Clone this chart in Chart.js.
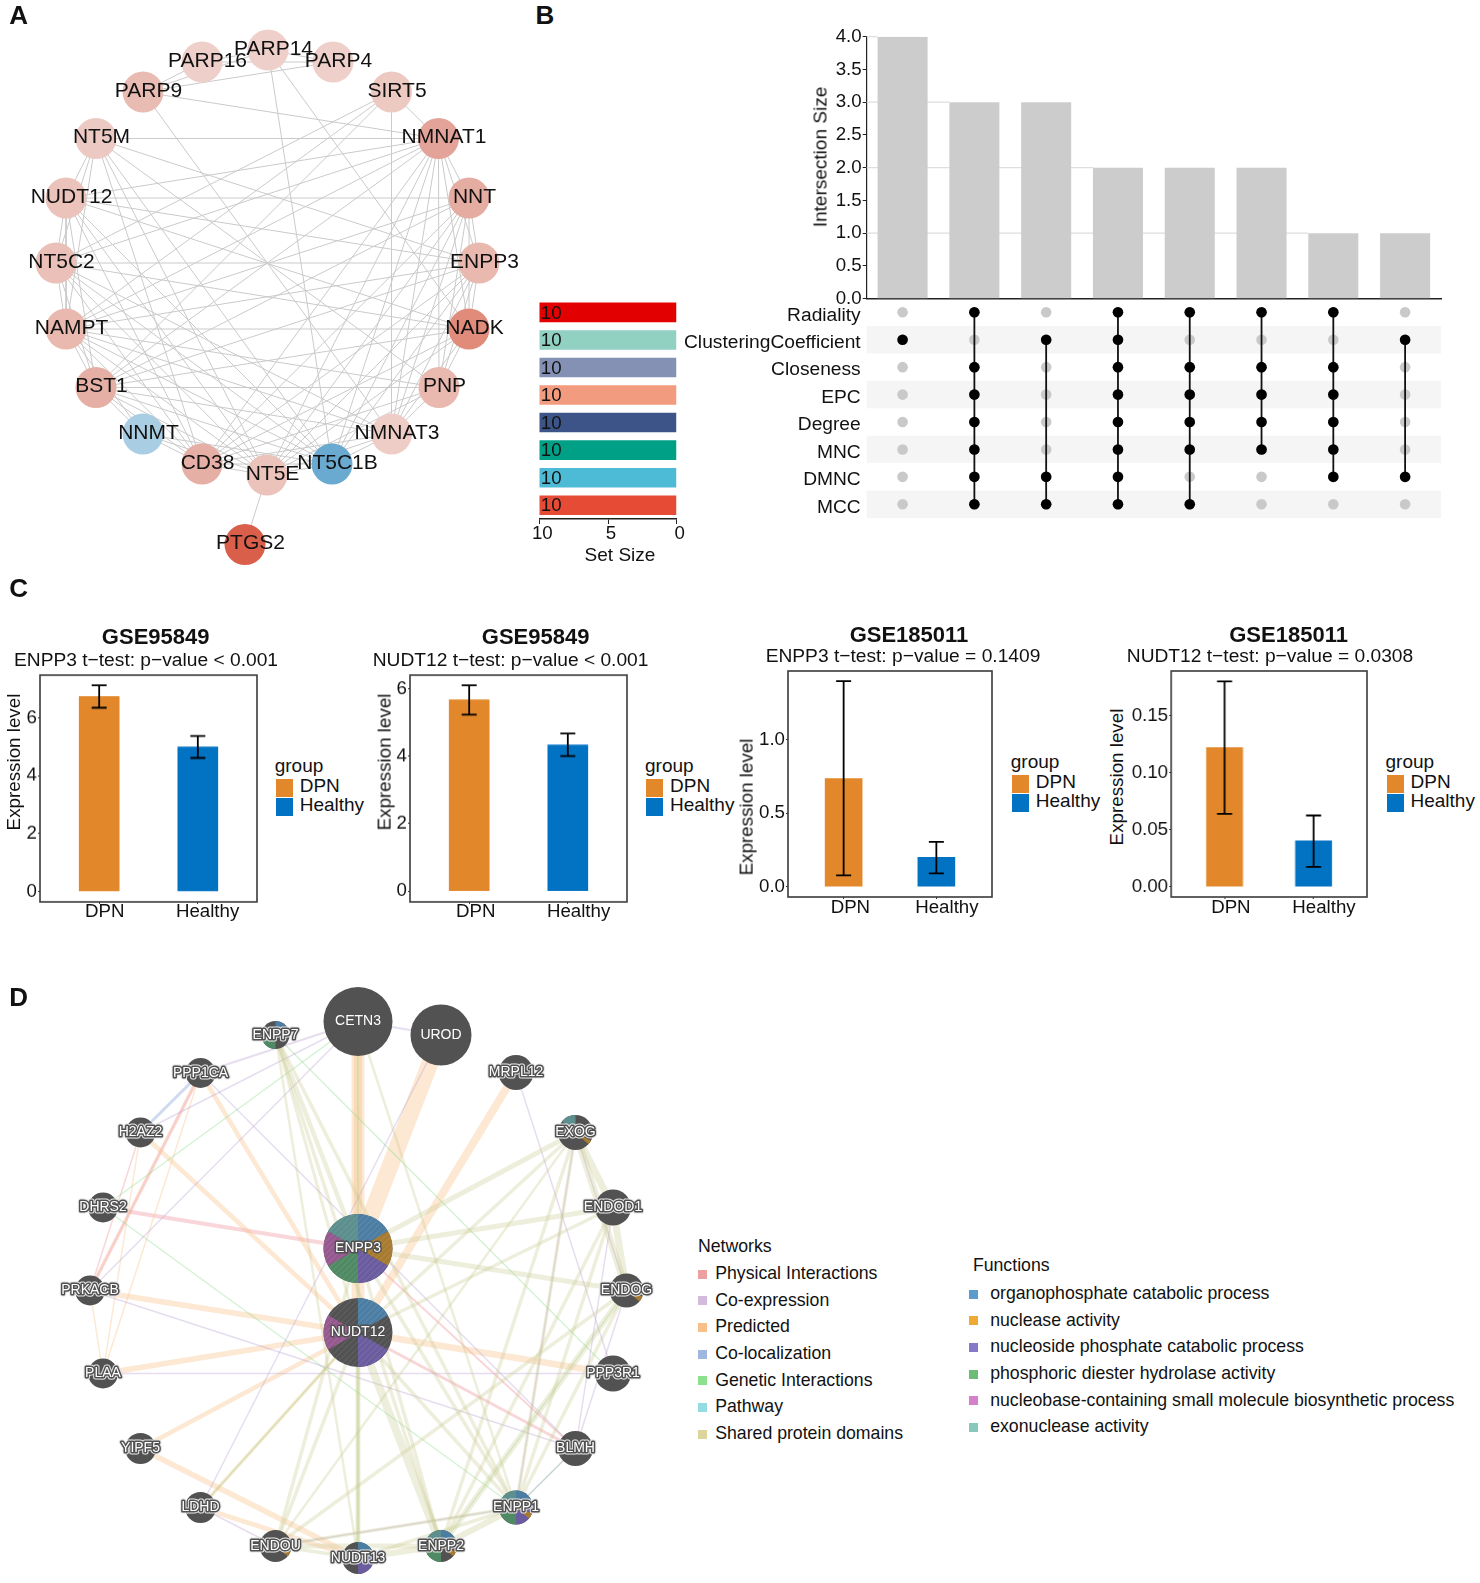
<!DOCTYPE html>
<html>
<head>
<meta charset="utf-8">
<script src="https://cdn.jsdelivr.net/npm/chart.js@4"></script>
<style>
  html, body { margin: 0; background: #fff; }
  #page { position: relative; width: 1480px; height: 1583px; overflow: hidden; font-family: "Liberation Sans", Arial, sans-serif; color: #111; }
  #page canvas { position: absolute; }
  #page span { position: absolute; white-space: nowrap; line-height: 1; }
  #page i { position: absolute; display: block; }
</style>
</head>
<body>
<div id="page"></div>
<script>
// ---- panel A data
const ppiNames = ["PARP14","PARP16","PARP4","PARP9","SIRT5","NT5M","NMNAT1","NUDT12","NNT","NT5C2","ENPP3","NAMPT","NADK","BST1","PNP","NNMT","NMNAT3","CD38","NT5C1B","NT5E","PTGS2"];
const ppiX = [268,202,333,143,391.5,96,438.5,66,469,56,479,66,469,96,439,143,391.5,202,332,267,245];
const ppiY = [50,62,62,92,92,138.5,138.5,198,198,263,263,329,329,387.5,387.5,434,434,464,464,475,544.5];
const ppiColors = ["#efcfc9","#efcfc9","#efcfc9","#e9bcb3","#eccac2","#eccac3","#e3a398","#ebc3bb","#e5aca1","#ebc0b8","#e9b9b0","#e9b9b0","#e18b7b","#e6afa5","#e9b9b0","#a9cde3","#eecdc6","#e6afa5","#6aa9d0","#ebc3bb","#d95f4a"];
const ppiEdges = [
  ["PARP14",["PARP16","PARP4","PARP9","NADK","NT5C1B"]],
  ["PARP16",["PARP4","PARP9"]],
  ["PARP9",["PARP4","NMNAT1","NMNAT3"]],
  ["SIRT5",["NMNAT1","NMNAT3","NT5C2","NAMPT","BST1"]],
  ["NT5M",["NMNAT1","NUDT12","NT5C2","NAMPT","ENPP3","PNP","NT5E","CD38","NT5C1B"]],
  ["NUDT12",["NNT","NMNAT1","ENPP3","NT5C2","NAMPT","NADK","NT5E","CD38","NT5C1B","BST1"]],
  ["NT5C2",["ENPP3","NMNAT1","NAMPT","BST1","NADK","NMNAT3","NT5E","CD38","NT5C1B"]],
  ["NAMPT",["NADK","NMNAT1","NNT","ENPP3","PNP","NMNAT3","NT5E","CD38","BST1","NNMT","NT5C1B"]],
  ["BST1",["PNP","NMNAT1","NNT","ENPP3","NADK","NMNAT3","NT5E","CD38","NNMT","NT5C1B"]],
  ["NNMT",["CD38","NT5E","NT5C1B"]],
  ["CD38",["NT5E","NMNAT1","NNT","ENPP3","NADK","PNP","NMNAT3","NT5C1B"]],
  ["NT5E",["PTGS2","NMNAT1","NNT","ENPP3","NADK","PNP","NMNAT3","NT5C1B"]],
  ["NT5C1B",["NMNAT1","NMNAT3","ENPP3","NNT"]],
  ["NMNAT3",["NMNAT1","NNT","ENPP3","NADK","PNP"]],
  ["PNP",["NMNAT1","NNT","ENPP3","NADK"]],
  ["NADK",["NMNAT1","NNT","ENPP3"]],
  ["ENPP3",["NMNAT1","NNT"]],
  ["NNT",["NMNAT1"]]
];

// ---- panel B data
const intersections = ["c1","c2","c3","c4","c5","c6","c7","c8"];
const intersectionSizes = [4,3,3,2,2,2,1,1];
const setNames = ["Radiality","ClusteringCoefficient","Closeness","EPC","Degree","MNC","DMNC","MCC"];
const setSizes = [10,10,10,10,10,10,10,10];
const setColors = ["#e30000","#91d1c2","#8491b4","#f39b7f","#3c5488","#00a087","#4dbbd5","#e64b35"];
const membership = [
  ["ClusteringCoefficient"],
  ["Radiality","Closeness","EPC","Degree","MNC","DMNC","MCC"],
  ["ClusteringCoefficient","DMNC","MCC"],
  ["Radiality","ClusteringCoefficient","Closeness","EPC","Degree","MNC","DMNC","MCC"],
  ["Radiality","Closeness","EPC","Degree","MNC","MCC"],
  ["Radiality","Closeness","EPC","Degree","MNC"],
  ["Radiality","Closeness","EPC","Degree","MNC","DMNC"],
  ["ClusteringCoefficient","DMNC"]
];

// ---- panel C data
const groups = ["DPN","Healthy"];
const groupColors = ["#e2872a","#0272c3"];
const gseTitles = ["GSE95849","GSE95849","GSE185011","GSE185011"];
const gseSubtitles = ["ENPP3 t\u2212test: p\u2212value < 0.001","NUDT12 t\u2212test: p\u2212value < 0.001","ENPP3 t\u2212test: p\u2212value = 0.1409","NUDT12 t\u2212test: p\u2212value = 0.0308"];
const means1 = [6.75,5.0],    low1 = [6.36,4.62],   high1 = [7.14,5.38];
const means2 = [5.67,4.33],   low2 = [5.23,4.0],    high2 = [6.10,4.67];
const means3 = [0.735,0.20],  low3 = [0.077,0.09],  high3 = [1.396,0.305];
const means4 = [0.1223,0.0404], low4 = [0.064,0.0175], high4 = [0.1804,0.0626];
const ticks1 = [0,2,4,6], ticks2 = [0,2,4,6], ticks3 = [0,0.5,1], ticks4 = [0,0.05,0.1,0.15];

// ---- panel D data
const geneNames = ["CETN3","UROD","ENPP7","MRPL12","PPP1CA","H2AZ2","EXOG","DHRS2","ENDOD1","ENPP3","ENDOG","PRKACB","NUDT12","PLAA","PPP3R1","YIPF5","BLMH","LDHD","ENPP1","ENDOU","ENPP2","NUDT13"];
const geneX = [358,441,275.5,516,200.5,140.5,575.5,103,613,358,626.5,90,358,103,613,140.5,575.5,200.5,516,275.5,441,358];
const geneY = [1021.5,1035,1035,1072.5,1073,1132.5,1132.5,1207.5,1207.5,1248.5,1290.5,1290.5,1332.5,1373.5,1373.5,1448.5,1448.5,1507.5,1507.5,1546,1546,1558];
const geneScore = [34.5,30.5,14,17.5,15,15,17.5,15,18,34.5,17,15,34.5,15,18,15.5,17.5,15.5,17,16,16,16];
const predictedEdges = [["CETN3","ENPP3",8],["CETN3","NUDT12",13],["UROD","ENPP3",17],["MRPL12","NUDT12",8],["PPP1CA","NUDT12",4.5],["H2AZ2","NUDT12",4.5],["PRKACB","NUDT12",5.5],["PLAA","NUDT12",5.5],["YIPF5","NUDT12",4.5],["LDHD","NUDT12",3.5],["NUDT12","PPP3R1",6.5],["YIPF5","NUDT13",5.5],["LDHD","NUDT13",4.5],["PPP1CA","PRKACB",1.5],["H2AZ2","PLAA",1.5],["PRKACB","PLAA",1.5],["PPP1CA","PLAA",1.5]];
const physicalEdges = [["DHRS2","ENPP3",4],["PPP1CA","PRKACB",3.5],["H2AZ2","PRKACB",1.5],["NUDT12","BLMH",3],["ENPP3","BLMH",2]];
const colocEdges = [["PPP1CA","H2AZ2",3]];
const coexprEdges = [["PPP1CA","CETN3",2],["CETN3","UROD",2],["H2AZ2","CETN3",1.5],["PRKACB","CETN3",1.5],["PPP1CA","BLMH",1.5],["MRPL12","PPP3R1",1.5],["UROD","LDHD",1.5],["PRKACB","BLMH",1.5],["PLAA","PPP3R1",1.5],["EXOG","ENPP1",1.5],["ENDOD1","BLMH",1.5],["LDHD","ENDOU",1.5],["ENDOU","ENPP1",1.5],["BLMH","ENPP1",1.5],["ENDOG","BLMH",1.5],["EXOG","ENDOG",1.5]];
const geneticEdges = [["CETN3","DHRS2",1.2],["ENPP7","PPP3R1",1.2],["DHRS2","ENPP1",1.2],["CETN3","ENPP3",1.2],["NUDT12","NUDT13",1.2],["NUDT12","LDHD",1.2],["BLMH","ENPP1",1.2],["ENDOG","ENPP2",1.2]];
const sharedEdges = [["ENPP7","ENPP3",4.5],["ENPP7","NUDT12",3],["ENPP7","NUDT13",2.5],["ENPP7","ENPP2",3.5],["ENPP7","ENPP1",3.5],["CETN3","ENPP1",2.5],["EXOG","ENPP3",5],["EXOG","NUDT12",3.5],["EXOG","ENDOD1",7],["EXOG","ENDOG",7],["ENDOD1","ENDOG",7],["ENDOD1","ENPP3",5],["ENDOD1","NUDT12",3.5],["ENDOG","ENPP3",5],["ENPP3","ENPP1",3.5],["ENPP3","ENPP2",3.5],["ENPP3","NUDT13",3.5],["ENPP3","ENDOU",3.5],["NUDT12","NUDT13",5],["NUDT12","ENDOU",3.5],["NUDT12","ENPP2",8],["NUDT12","ENPP1",3.5],["EXOG","ENPP1",3.5],["EXOG","ENPP2",3.5],["EXOG","ENDOU",2.5],["ENDOD1","ENPP1",3.5],["ENDOD1","ENPP2",3.5],["ENDOG","ENPP1",3.5],["ENDOG","ENPP2",6],["ENDOG","ENDOU",3.5],["ENDOU","ENPP2",5],["ENDOU","ENPP1",3.5],["ENPP1","ENPP2",6],["NUDT13","ENPP2",6],["NUDT13","ENPP1",3.5],["ENDOU","NUDT13",3.5]];
const networkNames = ["Physical Interactions","Co-expression","Predicted","Co-localization","Genetic Interactions","Pathway","Shared protein domains"];
const networkColors = ["#eda0a0","#d4bbdc","#f8c088","#9fb6e0","#8de08d","#94dbe3","#dcd69c"];
const functionNames = ["organophosphate catabolic process","nuclease activity","nucleoside phosphate catabolic process","phosphoric diester hydrolase activity","nucleobase-containing small molecule biosynthetic process","exonuclease activity"];
const functionColors = ["#5b9ccc","#eeaa33","#8878c8","#6cbc78","#d680cc","#88c8bc"];
const pieColors = ["#4c7ea3","#a87c30","#6a5c9e","#4f8a64","#96598f","#5c8f8d"];
// function index, start and end angle clockwise from the top
const pieSlices = {
  ENPP3: [[0,0,60],[1,60,120],[2,120,180],[3,180,240],[4,240,300],[5,300,360]],
  NUDT12: [[0,0,60],[2,120,180],[4,240,300]],
  ENPP7: [[0,0,70],[3,180,270]],
  EXOG: [[5,310,360],[1,118,132]],
  ENPP1: [[0,0,90],[2,90,180],[3,180,270],[5,270,360],[1,110,130]],
  ENPP2: [[0,0,90],[3,180,270],[5,270,360],[1,110,130]],
  NUDT13: [[0,0,90],[2,90,180]],
  ENDOG: [[1,110,130]],
  ENDOU: [[1,110,130]]
};
const hatched = ["ENPP3","NUDT12"];

// ---- helpers
const page = document.getElementById("page");

function text(str, x, y, size, opts = {}) {
  const s = document.createElement("span");
  s.textContent = str;
  s.style.left = x + "px";
  s.style.top = y + "px";
  s.style.fontSize = size + "px";
  if (opts.bold) s.style.fontWeight = "bold";
  const tx = opts.anchor === "l" ? "0" : "-50%";
  s.style.transform = `translate(${tx},-50%)` + (opts.rot ? ` rotate(${opts.rot}deg)` : "");
  page.appendChild(s);
}

function swatch(x, y, w, h, color) {
  const b = document.createElement("i");
  b.style.cssText = `left:${x}px;top:${y}px;width:${w}px;height:${h}px;background:${color}`;
  page.appendChild(b);
}

function addChart(left, top, w, h, config) {
  const c = document.createElement("canvas");
  c.width = w; c.height = h;
  c.style.left = left + "px";
  c.style.top = top + "px";
  c.style.width = w + "px";
  c.style.height = h + "px";
  page.appendChild(c);
  config.options = Object.assign({ responsive: false, animation: false, events: [] }, config.options);
  config.options.layout = Object.assign({ autoPadding: false }, config.options.layout);
  config.options.plugins = Object.assign({ legend: { display: false }, tooltip: { enabled: false } }, config.options.plugins);
  return new Chart(c, config);
}

function edgeSet(p, q, color, width) {
  return { type: "scatter", showLine: true, data: [p, q], borderColor: color, borderWidth: width, pointRadius: 0 };
}

const FONT = "Liberation Sans";

// ---- panel A
function ppiPoint(name) {
  const i = ppiNames.indexOf(name);
  return { x: ppiX[i], y: ppiY[i] };
}

const ppiLabels = {
  id: "ppiLabels",
  afterDatasetsDraw(chart) {
    const ctx = chart.ctx;
    ctx.save();
    ctx.font = `21px "${FONT}"`;
    ctx.fillStyle = "#111";
    ctx.textAlign = "center";
    ctx.textBaseline = "middle";
    chart.getDatasetMeta(0).data.forEach((pt, i) => ctx.fillText(ppiNames[i], pt.x + 5.5, pt.y - 1));
    ctx.restore();
  }
};

const ppiSets = [{
  type: "scatter",
  data: ppiNames.map(ppiPoint),
  backgroundColor: ppiColors,
  borderWidth: 0,
  pointRadius: 20.5
}];
ppiEdges.forEach(([from, list]) => list.forEach(to => ppiSets.push(edgeSet(ppiPoint(from), ppiPoint(to), "#cacaca", 1))));

addChart(0, 0, 530, 575, {
  type: "scatter",
  data: { datasets: ppiSets },
  options: {
    layout: { padding: 0 },
    scales: {
      x: { display: false, min: 0, max: 530 },
      y: { display: false, min: 0, max: 575, reverse: true }
    }
  },
  plugins: [ppiLabels]
});

// ---- panel B, intersection bars
// each grid line stops at the first bar of that height
const shortGrid = {
  id: "shortGrid",
  beforeDatasetsDraw(chart) {
    const { ctx, chartArea, scales } = chart;
    const bars = chart.getDatasetMeta(0).data;
    ctx.save();
    ctx.strokeStyle = "#dedede";
    ctx.lineWidth = 1.2;
    [1, 2, 3, 4].forEach(v => {
      const bar = bars[intersectionSizes.indexOf(v)];
      const y = scales.y.getPixelForValue(v);
      ctx.beginPath();
      ctx.moveTo(chartArea.left, y);
      ctx.lineTo(bar.x - bar.width / 2, y);
      ctx.stroke();
    });
    ctx.restore();
  }
};

addChart(790, 20, 670, 320, {
  type: "bar",
  data: {
    labels: intersections,
    datasets: [{ data: intersectionSizes, backgroundColor: "#cccccc", barPercentage: 0.697, categoryPercentage: 1 }]
  },
  options: {
    layout: { padding: { top: 16.7, right: 19, bottom: 41.3 } },
    scales: {
      x: {
        afterFit(s) { s.height = 0; },
        ticks: { display: false },
        grid: { display: false },
        border: { color: "#222", width: 1.4 }
      },
      y: {
        min: 0, max: 4,
        afterFit(s) { s.width = 76.7; },
        ticks: { stepSize: 0.5, padding: 1, color: "#111", font: { family: FONT, size: 18.7 }, callback: v => v.toFixed(1) },
        grid: { drawOnChartArea: false, tickLength: 4, tickColor: "#222" },
        border: { color: "#222", width: 1.2 }
      }
    }
  },
  plugins: [shortGrid]
});
text("Intersection Size", 819.5, 157.3, 19, { rot: -90 });

// ---- panel B, dot matrix
const rowStripes = {
  id: "rowStripes",
  beforeDatasetsDraw(chart) {
    const { ctx, chartArea, scales } = chart;
    const band = scales.y.getPixelForValue(1) - scales.y.getPixelForValue(0);
    ctx.save();
    ctx.fillStyle = "#f5f5f5";
    setNames.forEach((n, i) => {
      if (i % 2 === 1) ctx.fillRect(chartArea.left, scales.y.getPixelForValue(i) - band / 2, chartArea.width, band);
    });
    ctx.restore();
  }
};

const matrixSets = [];
// connecting lines and black dots go first so they stay over the grey ones
membership.forEach((members, col) => {
  matrixSets.push({
    type: "scatter",
    showLine: members.length > 1,
    data: members.map(s => ({ x: intersections[col], y: s })),
    borderColor: "#111",
    borderWidth: 1.8,
    backgroundColor: "#000",
    pointRadius: 5.3,
    pointBorderWidth: 0
  });
});
matrixSets.push({
  type: "scatter",
  data: intersections.flatMap(c => setNames.map(s => ({ x: c, y: s }))),
  backgroundColor: "#c9c9c9",
  pointRadius: 5.3,
  pointBorderWidth: 0
});

addChart(660, 260, 800, 300, {
  type: "scatter",
  data: { datasets: matrixSets },
  options: {
    layout: { padding: { top: 38.6, right: 19, bottom: 42 } },
    scales: {
      x: { type: "category", labels: intersections, display: false, offset: true },
      y: {
        type: "category",
        labels: setNames,
        offset: true,
        afterFit(s) { s.width = 206.7; },
        ticks: { padding: 6, labelOffset: 3, color: "#111", autoSkip: false, font: { family: FONT, size: 19.2 } },
        grid: { display: false, drawTicks: false },
        border: { display: false }
      }
    }
  },
  plugins: [rowStripes]
});

// ---- panel B, set sizes
const setValueLabels = {
  id: "setValueLabels",
  afterDatasetsDraw(chart) {
    const ctx = chart.ctx;
    ctx.save();
    ctx.font = `18.7px "${FONT}"`;
    ctx.fillStyle = "#111";
    ctx.textBaseline = "middle";
    chart.getDatasetMeta(0).data.forEach((bar, i) => ctx.fillText(String(setSizes[i]), bar.x + 1.5, bar.y + 1));
    ctx.restore();
  }
};

addChart(525, 290, 170, 280, {
  type: "bar",
  data: {
    labels: setNames,
    datasets: [{ data: setSizes, backgroundColor: setColors, barPercentage: 0.71, categoryPercentage: 1 }]
  },
  options: {
    indexAxis: "y",
    layout: { padding: { top: 8.6, left: 14.3, right: 18.2 } },
    scales: {
      x: {
        min: 0, max: 10, reverse: true,
        afterFit(s) { s.height = 51; },
        ticks: { stepSize: 5, labelOffset: 3, padding: -1, maxRotation: 0, color: "#111", font: { family: FONT, size: 18.7 } },
        grid: { drawOnChartArea: false, tickLength: 5, tickColor: "#222" },
        border: { color: "#222", width: 1.4 }
      },
      y: { display: false }
    }
  },
  plugins: [setValueLabels]
});
text("Set Size", 620, 554, 19);

// ---- panel C
const plotFrame = {
  id: "plotFrame",
  afterDatasetsDraw(chart, args, opts) {
    const { ctx, chartArea: a, scales } = chart;
    ctx.save();
    ctx.strokeStyle = "#000";
    ctx.lineWidth = 1.8;
    opts.low.forEach((lo, i) => {
      const x = scales.x.getPixelForValue(i);
      const y1 = scales.y.getPixelForValue(lo);
      const y2 = scales.y.getPixelForValue(opts.high[i]);
      ctx.beginPath();
      ctx.moveTo(x, y1); ctx.lineTo(x, y2);
      ctx.moveTo(x - 7.5, y1); ctx.lineTo(x + 7.5, y1);
      ctx.moveTo(x - 7.5, y2); ctx.lineTo(x + 7.5, y2);
      ctx.stroke();
    });
    ctx.strokeStyle = "#3a3a3a";
    ctx.lineWidth = 1.6;
    ctx.strokeRect(a.left, a.top, a.width, a.height);
    ctx.restore();
  }
};

function barPlot(p) {
  const pad = 40;
  addChart(p.l - pad, p.t - 30, p.r - p.l + pad + 10, p.b - p.t + 50, {
    type: "bar",
    data: {
      datasets: [{
        data: p.means.map((m, i) => ({ x: i, y: m })),
        backgroundColor: groupColors,
        barThickness: p.barW
      }]
    },
    options: {
      layout: { padding: { top: 30, right: 10 } },
      plugins: { plotFrame: { low: p.low, high: p.high } },
      scales: {
        x: {
          type: "linear", min: -0.6, max: 1.6, offset: false,
          afterFit(s) { s.height = 20; },
          afterBuildTicks(s) { s.ticks = [{ value: 0 }, { value: 1 }]; },
          ticks: { display: false },
          grid: { offset: false, drawOnChartArea: false, tickLength: 2, tickColor: "#333" },
          border: { display: false }
        },
        y: {
          min: p.yMin, max: p.yMax,
          afterFit(s) { s.width = pad; },
          afterBuildTicks(s) { s.ticks = p.ticks.map(v => ({ value: v })); },
          ticks: { autoSkip: false, padding: 1, color: "#111", font: { family: FONT, size: 18.7 }, callback: v => v.toFixed(p.digits) },
          grid: { drawOnChartArea: false, tickLength: 2, tickColor: "#333" },
          border: { display: false }
        }
      }
    },
    plugins: [plotFrame]
  });
  text(p.title, p.titleX, p.titleY, 22, { bold: true });
  text(p.sub, p.subX, p.subY, 19.2);
  text("Expression level", p.axX, p.axY, 18.8, { rot: -90 });
  text(groups[0], p.catX[0], p.b + 9.5, 18.7);
  text(groups[1], p.catX[1], p.b + 9.5, 18.7);
  text("group", p.legX, p.legY, 19, { anchor: "l" });
  swatch(p.legX + 1, p.legY + 14, 17, 17.5, groupColors[0]);
  swatch(p.legX + 1, p.legY + 33, 17, 17.5, groupColors[1]);
  text(groups[0], p.legX + 25, p.legY + 20, 19, { anchor: "l" });
  text(groups[1], p.legX + 25, p.legY + 39, 19, { anchor: "l" });
}

barPlot({ l: 39.6, r: 256.7, t: 675.3, b: 901.7, yMin: -0.37, yMax: 7.49, barW: 40, means: means1, low: low1, high: high1, ticks: ticks1, digits: 0, catX: [104.8, 207.6],
  title: gseTitles[0], titleX: 155.7, titleY: 637, sub: gseSubtitles[0], subX: 146, subY: 660, axX: 14, axY: 761.7, legX: 274.7, legY: 765 });
barPlot({ l: 409.6, r: 627.2, t: 675.3, b: 901.7, yMin: -0.32, yMax: 6.4, barW: 40, means: means2, low: low2, high: high2, ticks: ticks2, digits: 0, catX: [475.7, 578.6],
  title: gseTitles[1], titleX: 535.6, titleY: 637, sub: gseSubtitles[1], subX: 510.6, subY: 660, axX: 384.6, axY: 761.7, legX: 645, legY: 765 });
barPlot({ l: 788.3, r: 992.4, t: 670.7, b: 897, yMin: -0.07, yMax: 1.465, barW: 37, means: means3, low: low3, high: high3, ticks: ticks3, digits: 1, catX: [850.4, 946.9],
  title: gseTitles[2], titleX: 909, titleY: 635, sub: gseSubtitles[2], subX: 903, subY: 656, axX: 746.7, axY: 806.7, legX: 1010.8, legY: 761 });
barPlot({ l: 1171.3, r: 1367, t: 670.7, b: 897, yMin: -0.009, yMax: 0.1895, barW: 36, means: means4, low: low4, high: high4, ticks: ticks4, digits: 2, catX: [1230.9, 1324],
  title: gseTitles[3], titleX: 1288.6, titleY: 635, sub: gseSubtitles[3], subX: 1270, subY: 656, axX: 1116.5, axY: 776.7, legX: 1385.5, legY: 761 });

// ---- panel D
function genePoint(name) {
  const i = geneNames.indexOf(name);
  return { x: geneX[i], y: geneY[i] };
}

const geneDecor = {
  id: "geneDecor",
  afterDatasetsDraw(chart) {
    const ctx = chart.ctx;
    const pts = chart.getDatasetMeta(0).data;
    ctx.save();
    geneNames.forEach((name, i) => {
      const { x, y } = pts[i];
      const r = geneScore[i];
      (pieSlices[name] || []).forEach(([f, a, b]) => {
        ctx.beginPath();
        ctx.moveTo(x, y);
        ctx.arc(x, y, r, (a - 90) * Math.PI / 180, (b - 90) * Math.PI / 180);
        ctx.closePath();
        ctx.fillStyle = pieColors[f];
        ctx.fill();
      });
      if (hatched.includes(name)) {
        ctx.save();
        ctx.beginPath();
        ctx.arc(x, y, r, 0, Math.PI * 2);
        ctx.clip();
        ctx.strokeStyle = "rgba(255,255,255,0.13)";
        ctx.lineWidth = 1;
        for (let d = -2 * r; d < 2 * r; d += 6) {
          ctx.beginPath();
          ctx.moveTo(x + d - r, y + r);
          ctx.lineTo(x + d + r, y - r);
          ctx.stroke();
        }
        ctx.restore();
      }
    });
    ctx.font = `14px "${FONT}"`;
    ctx.textAlign = "center";
    ctx.textBaseline = "middle";
    ctx.lineJoin = "round";
    geneNames.forEach((name, i) => {
      const { x, y } = pts[i];
      const r = geneScore[i];
      if (r < 25) {
        ctx.strokeStyle = "#e4e4e4";
        ctx.lineWidth = 5;
        ctx.strokeText(name, x, y);
      }
      if (name !== "CETN3" && name !== "UROD") {
        ctx.strokeStyle = "#505050";
        ctx.lineWidth = 3;
        ctx.strokeText(name, x, y);
      }
      ctx.fillStyle = "#fff";
      ctx.fillText(name, x, y);
    });
    ctx.restore();
  }
};

const geneSets = [{
  type: "scatter",
  data: geneNames.map(genePoint),
  backgroundColor: "#525252",
  borderWidth: 0,
  pointRadius: geneScore
}];
const edgeStyles = [
  [sharedEdges, "rgba(198,198,140,0.3)"],
  [coexprEdges, "rgba(190,165,210,0.38)"],
  [geneticEdges, "rgba(125,215,125,0.36)"],
  [colocEdges, "rgba(140,165,225,0.42)"],
  [predictedEdges, "rgba(248,195,140,0.38)"],
  [physicalEdges, "rgba(238,140,150,0.36)"]
];
edgeStyles.forEach(([list, color]) => list.forEach(([a, b, w]) => geneSets.push(edgeSet(genePoint(a), genePoint(b), color, w))));

addChart(0, 960, 680, 623, {
  type: "scatter",
  data: { datasets: geneSets },
  options: {
    layout: { padding: 0 },
    scales: {
      x: { display: false, min: 0, max: 680 },
      y: { display: false, min: 960, max: 1583, reverse: true }
    }
  },
  plugins: [geneDecor]
});

// ---- panel D legends
text("Networks", 697.9, 1246.5, 17.7, { anchor: "l" });
networkNames.forEach((n, i) => {
  const y = 1274 + i * 26.67;
  swatch(697.5, y - 4.5, 9, 9, networkColors[i]);
  text(n, 715.2, y, 17.7, { anchor: "l" });
});
text("Functions", 972.9, 1265.5, 17.7, { anchor: "l" });
functionNames.forEach((n, i) => {
  const y = 1294 + i * 26.67;
  swatch(969, y - 4.5, 9, 9, functionColors[i]);
  text(n, 990.2, y, 17.7, { anchor: "l" });
});

// ---- panel letters
text("A", 18.6, 15.3, 26, { bold: true });
text("B", 545, 14.5, 26, { bold: true });
text("C", 18.6, 587.5, 26, { bold: true });
text("D", 18.6, 996.5, 26, { bold: true });
</script>
</body>
</html>
